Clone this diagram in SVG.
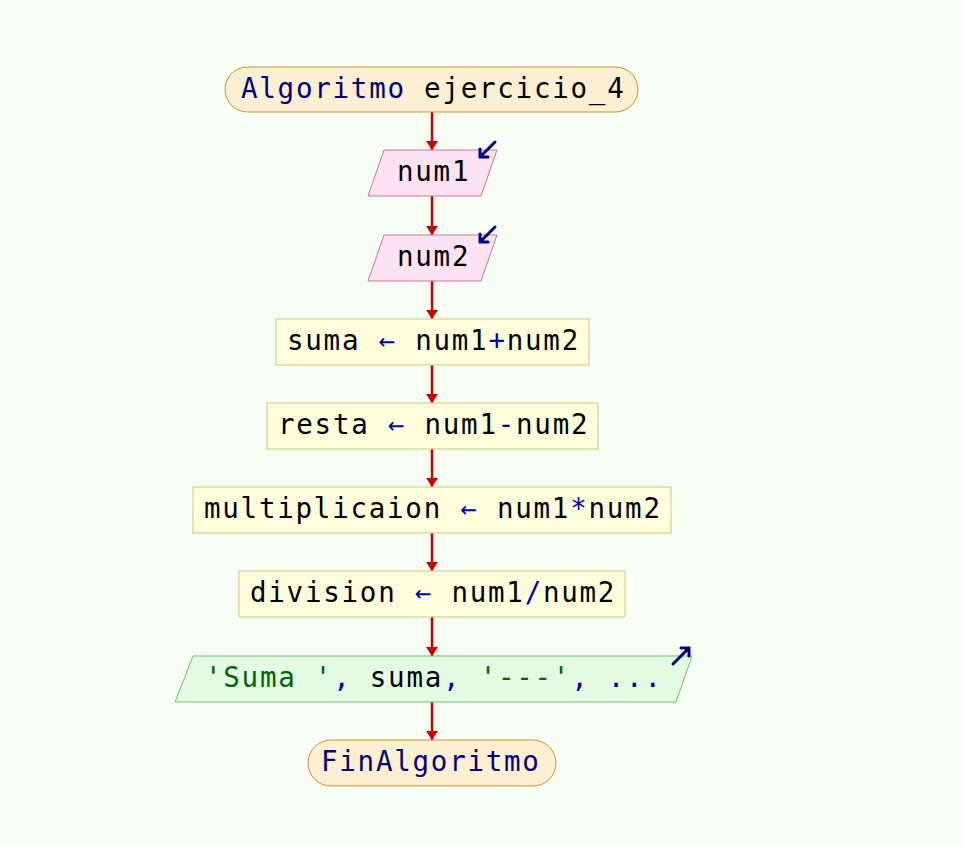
<svg xmlns="http://www.w3.org/2000/svg" width="963" height="846" viewBox="0 0 963 846">
<defs>
<marker id="ah" viewBox="0 0 9 12" refX="9" refY="6" markerWidth="9" markerHeight="12" markerUnits="userSpaceOnUse" orient="auto">
<path d="M0,0 L9,6 L0,12 Z" fill="#cc0000"/>
</marker>
</defs>
<style>
text{font-family:"DejaVu Sans Mono","Liberation Mono",monospace;font-size:27.5px;letter-spacing:1.75px;fill:#000}
.kw{fill:#000080}
.op{fill:#0000aa}
.str{fill:#006400}
.term{fill:#fdf0d2;stroke:#d0902c;stroke-width:1}
.io{fill:#fde2f2;stroke:#d070a0;stroke-width:1}
.proc{fill:#ffffdc;stroke:#c8c87a;stroke-width:1}
.out{fill:#e2fbe2;stroke:#66c466;stroke-width:1}
.conn line{stroke:#cc0000;stroke-width:2.5;marker-end:url(#ah)}
.ind{stroke:#000080;stroke-width:3;fill:none;stroke-linecap:round}
</style>
<rect width="963" height="846" fill="#f7fff4"/>
<g class="conn" id="connectors">
<line x1="432" y1="112" x2="432" y2="150"/>
<line x1="432" y1="196" x2="432" y2="235"/>
<line x1="432" y1="281" x2="432" y2="319"/>
<line x1="432" y1="365" x2="432" y2="403"/>
<line x1="432" y1="449" x2="432" y2="487"/>
<line x1="432" y1="533" x2="432" y2="571"/>
<line x1="432" y1="617" x2="432" y2="656"/>
<line x1="432" y1="702" x2="432" y2="740"/>
</g>
<g id="start">
<rect class="term" x="225" y="67" width="413" height="45" rx="22.5"/>
<text x="241" y="98"><tspan class="kw">Algoritmo</tspan> ejercicio_4</text>
</g>
<g id="read1">
<polygon class="io" points="384,150 497,150 481,196 368,196"/>
<text x="397" y="181">num1</text>
<path class="ind" d="M495,142 L480,157 M480,149 L480,157 L488,157"/>
</g>
<g id="read2">
<polygon class="io" points="384,235 497,235 481,281 368,281"/>
<text x="397" y="266">num2</text>
<path class="ind" d="M495,227 L480,242 M480,234 L480,242 L488,242"/>
</g>
<g id="suma">
<rect class="proc" x="276" y="319" width="313" height="46"/>
<text x="287" y="350">suma <tspan class="op">←</tspan> num1<tspan class="op">+</tspan>num2</text>
</g>
<g id="resta">
<rect class="proc" x="267" y="403" width="331" height="46"/>
<text x="278" y="434">resta <tspan class="op">←</tspan> num1<tspan class="op">-</tspan>num2</text>
</g>
<g id="mult">
<rect class="proc" x="193" y="487" width="478" height="46"/>
<text x="204" y="518">multiplicaion <tspan class="op">←</tspan> num1<tspan class="op">*</tspan>num2</text>
</g>
<g id="div">
<rect class="proc" x="239" y="571" width="386" height="46"/>
<text x="250" y="602">division <tspan class="op">←</tspan> num1<tspan class="op">/</tspan>num2</text>
</g>
<g id="output">
<polygon class="out" points="193,656 692,656 676,702 175,702"/>
<text x="205" y="687"><tspan class="str">'Suma '</tspan><tspan class="op">,</tspan> suma<tspan class="op">,</tspan> <tspan class="str">'---'</tspan><tspan class="op">, ...</tspan></text>
<path class="ind" d="M673,664 L689,648 M681,648 L689,648 L689,656"/>
</g>
<g id="end">
<rect class="term" x="308" y="740" width="248" height="46" rx="23"/>
<text x="321" y="771" class="kw">FinAlgoritmo</text>
</g>
</svg>
